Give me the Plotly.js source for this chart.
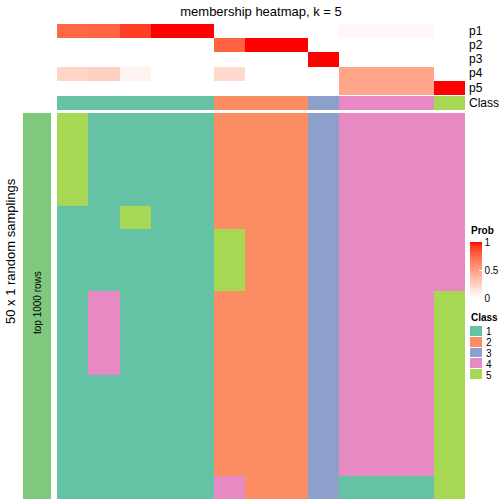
<!DOCTYPE html>
<html>
<head>
<meta charset="utf-8">
<script src="https://cdn.plot.ly/plotly-3.0.1.min.js"></script>
<style>html,body{margin:0;padding:0;background:#fff;}#chart{width:504px;height:504px;}</style>
</head>
<body>
<div id="chart"></div>
<script>
// ---------------- data ----------------
const columns = [1,2,3,4,5,6,7,8,9,10,11,12,13];
const probRowLabels = ["p1","p2","p3","p4","p5"];
const p1 = [0.75,0.76,0.90,1,1,0,0,0,0,0.04,0.04,0.04,0];
const p2 = [0,0,0,0,0,0.77,1,1,0,0,0,0,0];
const p3 = [0,0,0,0,0,0,0,0,1,0,0,0,0];
const p4 = [0.22,0.24,0.06,0,0,0.20,0,0,0,0.47,0.47,0.47,0];
const p5 = [0,0,0,0,0,0,0,0,0,0.46,0.46,0.46,1];
const consensusClass = [1,1,1,1,1,2,2,2,3,4,4,4,5];
// class of each column in each of the 50 random samplings (one string per row)
const samplingRows = [
 "5111122234444","5111122234444","5111122234444","5111122234444",
 "5111122234444","5111122234444","5111122234444","5111122234444",
 "5111122234444","5111122234444","5111122234444","5111122234444",
 "1151122234444","1151122234444","1151122234444",
 "1111152234444","1111152234444","1111152234444","1111152234444",
 "1111152234444","1111152234444","1111152234444","1111152234444",
 "1411122234445","1411122234445","1411122234445","1411122234445",
 "1411122234445","1411122234445","1411122234445","1411122234445",
 "1411122234445","1411122234445","1411122234445",
 "1111122234445","1111122234445","1111122234445","1111122234445",
 "1111122234445","1111122234445","1111122234445","1111122234445",
 "1111122234445","1111122234445","1111122234445","1111122234445",
 "1111122234445",
 "1111142231115","1111142231115","1111142231115"
];
const classLevels = [1,2,3,4,5];
const classColors = ["#66C2A5","#FC8D62","#8DA0CB","#E78AC3","#A6D854"];
const probTicks = [0,0.5,1];
const sideLabel = "top 1000 rows";
const sideColor = "#7FC97F";

// ---------------- helpers ----------------
function srgb2lin(c){c/=255;return c<=0.04045?c/12.92:Math.pow((c+0.055)/1.055,2.4);}
function lin2srgb(c){c=Math.max(0,Math.min(1,c));return 255*(c<=0.0031308?12.92*c:1.055*Math.pow(c,1/2.4)-0.055);}
function rgb2lab(r,g,b){
  const R=srgb2lin(r),G=srgb2lin(g),B=srgb2lin(b);
  let X=(0.4124*R+0.3576*G+0.1805*B)/0.95047,Y=(0.2126*R+0.7152*G+0.0722*B),Z=(0.0193*R+0.1192*G+0.9505*B)/1.08883;
  const f=t=>t>0.008856?Math.cbrt(t):7.787*t+16/116;
  const fx=f(X),fy=f(Y),fz=f(Z);
  return [116*fy-16,500*(fx-fy),200*(fy-fz)];
}
function lab2rgb(L,a,b){
  const fy=(L+16)/116,fx=fy+a/500,fz=fy-b/200;
  const g=t=>t>0.206893?t*t*t:(t-16/116)/7.787;
  const X=0.95047*g(fx),Y=g(fy),Z=1.08883*g(fz);
  const R=3.2406*X-1.5372*Y-0.4986*Z,G=-0.9689*X+1.8758*Y+0.0415*Z,B=0.0557*X-0.2040*Y+1.0570*Z;
  return 'rgb('+Math.round(lin2srgb(R))+','+Math.round(lin2srgb(G))+','+Math.round(lin2srgb(B))+')';
}
const labW=rgb2lab(255,255,255),labR=rgb2lab(255,0,0);
const probScale=[];
for(let i=0;i<=20;i++){const t=i/20;probScale.push([t,lab2rgb(labW[0]+(labR[0]-labW[0])*t,labW[1]+(labR[1]-labW[1])*t,labW[2]+(labR[2]-labW[2])*t)]);}
const n=classLevels.length;
const classScale=[];
classColors.forEach((c,i)=>{
  const lo=i===0?0:(i-0.5)/(n-1), hi=i===n-1?1:(i+0.5)/(n-1);
  classScale.push([lo,c]);classScale.push([hi,c]);
});

const W=504,H=504;
const px=v=>v/W, py=v=>1-v/H;
const colIdx=columns.map((c,i)=>i);

// ---------------- traces ----------------
const traces=[
 {type:'heatmap',x:colIdx,y:[0,1,2,3,4],z:[p1,p2,p3,p4,p5],xaxis:'x',yaxis:'y',
  colorscale:probScale,zmin:0,zmax:1,hoverinfo:'skip',
  colorbar:{x:px(470),xanchor:'left',xpad:0,y:py(242),yanchor:'top',ypad:0,len:56,lenmode:'pixels',
    thickness:12,thicknessmode:'pixels',outlinewidth:0,tickvals:probTicks,ticktext:probTicks.map(String),
    ticks:'inside',ticklen:3,tickcolor:'white',tickfont:{size:10,color:'#000'}}},
 {type:'heatmap',x:colIdx,y:[0],z:[consensusClass],xaxis:'x',yaxis:'y2',
  colorscale:classScale,zmin:1,zmax:5,showscale:false,hoverinfo:'skip'},
 {type:'heatmap',x:colIdx,y:samplingRows.map((r,i)=>i),z:samplingRows.map(r=>r.split('').map(Number)),
  xaxis:'x',yaxis:'y3',colorscale:classScale,zmin:1,zmax:5,showscale:false,hoverinfo:'skip'},
 {type:'heatmap',x:[0],y:[0],z:[[1]],xaxis:'x2',yaxis:'y5',colorscale:[[0,sideColor],[1,sideColor]],
  showscale:false,hoverinfo:'skip'},
 {type:'heatmap',x:[0],y:classLevels.map((c,i)=>i),z:classLevels.map(c=>[c]),xaxis:'x3',yaxis:'y4',
  colorscale:classScale,zmin:1,zmax:5,showscale:false,ygap:1,hoverinfo:'skip'}
];

// ---------------- annotations ----------------
const ann=[];
const A=(o)=>Object.assign({xref:'paper',yref:'paper',xanchor:'left',yanchor:'middle',showarrow:false,borderpad:0},o);
const probY=[31,45,59,73,87.5];
probRowLabels.forEach((l,i)=>ann.push(A({text:l,x:px(468),y:py(probY[i]),font:{size:12}})));
ann.push(A({text:'Class',x:px(468),y:py(103),font:{size:12}}));
ann.push(A({text:'<b>Prob</b>',x:px(470),y:py(231),font:{size:10}}));
ann.push(A({text:'<b>Class</b>',x:px(470),y:py(317.5),font:{size:10}}));
classLevels.forEach((c,i)=>ann.push(A({text:String(c),x:px(485),y:py(331+11*i),font:{size:10}})));
ann.push(A({text:'50 x 1 random samplings',x:px(10),y:py(251),xanchor:'center',textangle:-90,font:{size:13}}));
ann.push(A({text:sideLabel,x:px(37),y:py(303),xanchor:'center',textangle:-90,font:{size:10}}));

const hid={visible:false,showgrid:false,zeroline:false,fixedrange:true};
const layout={
  width:W,height:H,margin:{l:0,r:0,t:0,b:0},paper_bgcolor:'#fff',plot_bgcolor:'#fff',
  font:{family:'Liberation Sans, Arial, sans-serif',color:'#000'},
  title:{text:'membership heatmap, k = 5',x:px(261),xanchor:'center',y:py(11),yanchor:'middle',xref:'paper',yref:'paper',font:{size:13}},
  showlegend:false,
  xaxis:Object.assign({domain:[px(57),px(465)],range:[-0.5,12.5],anchor:'y'},hid),
  yaxis:Object.assign({domain:[py(95),py(24)],range:[4.5,-0.5],anchor:'x'},hid),
  yaxis2:Object.assign({domain:[py(110),py(96)],range:[0.5,-0.5],anchor:'x'},hid),
  yaxis3:Object.assign({domain:[py(499),py(113)],range:[49.5,-0.5],anchor:'x'},hid),
  xaxis2:Object.assign({domain:[px(23),px(51)],range:[-0.5,0.5],anchor:'y5'},hid),
  yaxis5:Object.assign({domain:[py(499),py(113)],range:[0.5,-0.5],anchor:'x2'},hid),
  xaxis3:Object.assign({domain:[px(470),px(482)],range:[-0.5,0.5],anchor:'y4'},hid),
  yaxis4:Object.assign({domain:[py(380),py(326)],range:[4.5,-0.5],anchor:'x3'},hid),
  annotations:ann
};
Plotly.newPlot('chart',traces,layout,{displayModeBar:false,staticPlot:true});
</script>
</body>
</html>
